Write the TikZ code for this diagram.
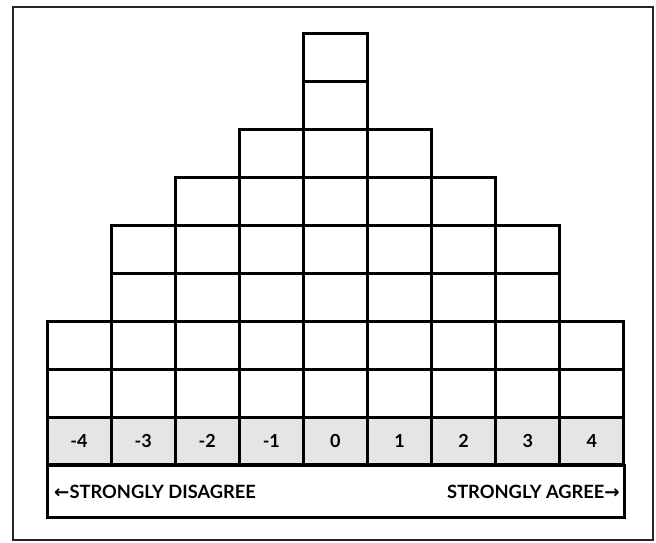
\documentclass[tikz,border=0pt]{standalone}
\usepackage{fontspec}
\setmainfont{Lato}
\newfontfamily\arrowfont{DejaVu Sans}
\begin{document}
\begin{tikzpicture}[x=1pt,y=-1pt,
  cellbox/.style={draw=black,line width=3pt,minimum width=64.1pt,minimum height=47.9pt,inner sep=0pt,outer sep=0pt},
  numbox/.style={cellbox,fill=black!10,font=\fontsize{18}{18}\selectfont\bfseries},
  labeltext/.style={font=\fontsize{18.3}{18.3}\selectfont\bfseries,inner sep=0pt}]
\useasboundingbox (0,0) rectangle (656,542);
\draw[line width=2pt,black!85] (13,7) rectangle (653,540);
% label box
\node[draw=black,line width=3pt,minimum width=577pt,minimum height=52pt,inner sep=0pt,outer sep=0pt] (scale) at (335.5,491) {};
\node[labeltext,anchor=west] (dis) at ([xshift=7pt,yshift=-1pt]scale.west) {{\arrowfont\bfseries ←}STRONGLY DISAGREE};
\node[labeltext,anchor=east] (agr) at ([xshift=-4pt,yshift=-1pt]scale.east) {STRONGLY AGREE{\arrowfont\bfseries →}};
% columns
\foreach \v/\n [count=\i from 0] in {-4/2,-3/4,-2/5,-1/6,0/8,1/6,2/5,3/4,4/2} {
  \pgfmathsetmacro{\cx}{47+64.1*(\i+0.5)}
  \node[numbox] (n\i) at (\cx,441) {\v};
  \foreach \j in {1,...,\n} {
    \node[cellbox] (c\i-\j) at (\cx,{441-47.9*\j}) {};
  }
}
\end{tikzpicture}
\end{document}
